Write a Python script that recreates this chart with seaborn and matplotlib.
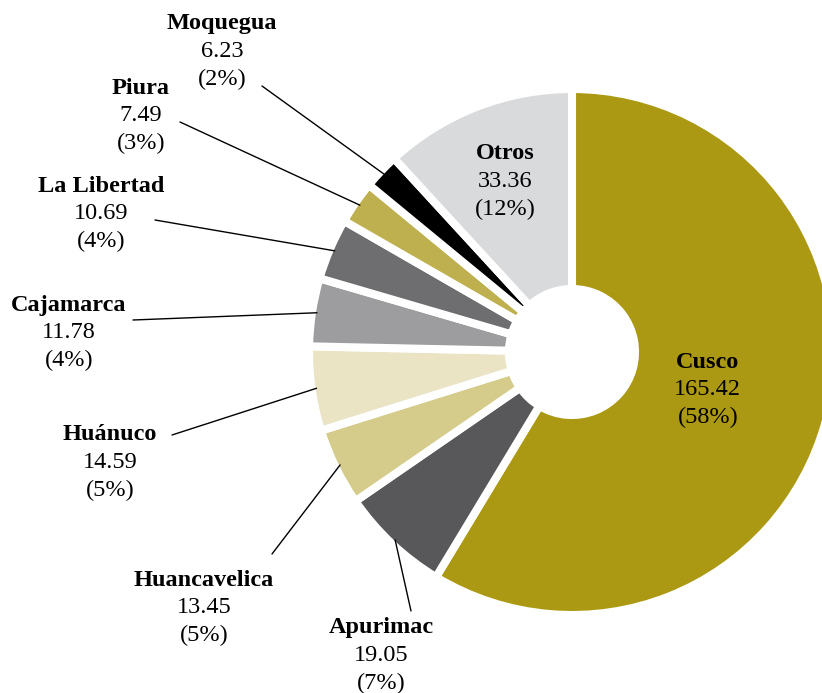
import numpy as np
import matplotlib
matplotlib.use("Agg")
import matplotlib.pyplot as plt
import seaborn as sns

# datos (miles de ha / participacion)
regiones = ["Cusco", "Apurimac", "Huancavelica", "Huánuco", "Cajamarca",
            "La Libertad", "Piura", "Moquegua", "Otros"]
valores = [165.42, 19.05, 13.45, 14.59, 11.78, 10.69, 7.49, 6.23, 33.36]
porcentajes = ["58%", "7%", "5%", "5%", "4%", "4%", "3%", "2%", "12%"]
colores = ["#AC9913", "#58585A", "#D5CB8A", "#EAE4C5", "#9D9D9F",
           "#6E6E70", "#BFB04F", "#000000", "#D9DADC"]

W, H = 822, 693
cx, cy = 572, H - 352
R = 263
ancho = 200

sns.set_theme(style="white")
plt.rcParams["font.family"] = ["Liberation Serif", "DejaVu Serif"]
plt.rcParams["text.color"] = "black"

fig = plt.figure(figsize=(W / 100, H / 100), dpi=100)
ax = fig.add_axes([0, 0, 1, 1])

wedges, _ = ax.pie(valores, colors=colores, startangle=90, counterclock=False,
                   radius=R, center=(cx, cy),
                   wedgeprops=dict(width=ancho, edgecolor="white", linewidth=5.8))
ax.set_xlim(0, W)
ax.set_ylim(0, H)
ax.set_aspect("equal")
ax.axis("off")

fs = 17.5
dl = 27.5  # separacion entre lineas (px)


def bloque(x, y, nombre, valor, pct):
    # y en pixeles desde arriba, centro de la primera linea
    ax.text(x, H - y, nombre, ha="center", va="center", fontsize=fs,
            fontweight="bold", color="black")
    ax.text(x, H - y - dl, f"{valor:.2f}", ha="center", va="center",
            fontsize=fs, color="black")
    ax.text(x, H - y - 2 * dl, f"({pct})", ha="center", va="center",
            fontsize=fs, color="black")


# etiquetas externas: posicion del texto y origen de la linea guia (px)
externas = {
    "Apurimac": ((381, 628), (411, 611)),
    "Huancavelica": ((204, 580), (272, 554)),
    "Huánuco": ((110, 435), (172, 435)),
    "Cajamarca": ((69, 305), (133, 320)),
    "La Libertad": ((101, 186), (155, 220)),
    "Piura": ((141, 88), (180, 122)),
    "Moquegua": ((222, 24), (262, 86)),
}
# etiquetas internas: radio del centro del bloque
internas = {"Cusco": 141, "Otros": 183}

for w, reg, val, pct in zip(wedges, regiones, valores, porcentajes):
    ang = np.deg2rad((w.theta1 + w.theta2) / 2)
    if reg in internas:
        r = internas[reg]
        x = cx + r * np.cos(ang)
        y = H - (cy + r * np.sin(ang))
        bloque(x, y - dl, reg, val, pct)
    else:
        (tx, ty), (lx, ly) = externas[reg]
        ex = cx + (R - 5) * np.cos(ang)
        ey = cy + (R - 5) * np.sin(ang)
        ax.plot([lx, ex], [H - ly, ey], color="black", lw=1.0, zorder=3)
        bloque(tx, ty, reg, val, pct)

fig.savefig("out.png", dpi=100)
